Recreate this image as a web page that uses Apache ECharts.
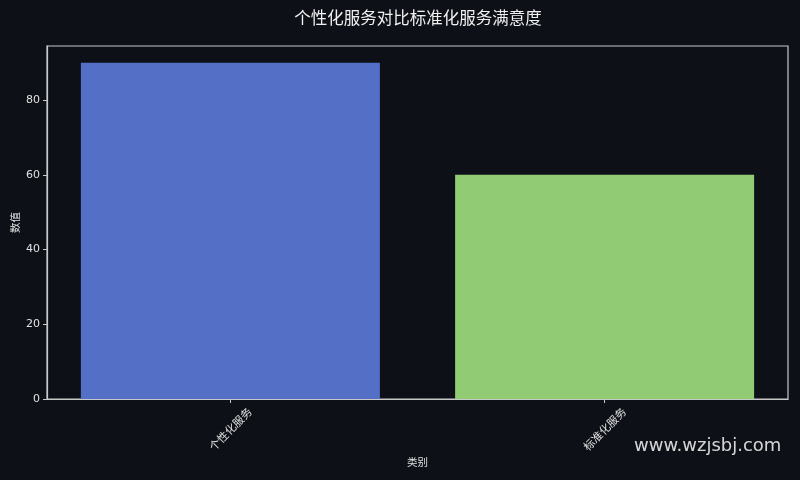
<!DOCTYPE html>
<html><head><meta charset="utf-8">
<script src="https://cdn.jsdelivr.net/npm/echarts@6/dist/echarts.min.js"></script>
<style>html,body{margin:0;padding:0;background:#0d1017;}#c{width:800px;height:480px;}</style>
</head><body><div id="c"></div>
<script>
const categories = ['个性化服务', '标准化服务'];
const values = [90, 60];
const barColors = ['#5470c6', '#91cc75'];
const yTicks = [0, 20, 40, 60, 80];
const title = '个性化服务对比标准化服务满意度';

const chart = echarts.init(document.getElementById('c'));
const font = '"Noto Sans CJK SC", "DejaVu Sans", sans-serif';
chart.setOption({
  backgroundColor: '#0d1017',
  animation: false,
  title: {
    text: title, left: 413, top: 4, textAlign: 'center',
    textStyle: {color: '#f0f0f0', fontSize: 16.5, fontWeight: 'normal', fontFamily: font}
  },
  grid: {left: 47, right: 12, top: 46, bottom: 81, outerBoundsMode: 'none', containLabel: false, show: true, borderColor: '#c8c8c8', borderWidth: 1.2, backgroundColor: 'transparent'},
  xAxis: {
    type: 'value', min: -0.49, max: 1.49,
    name: '类别', nameLocation: 'middle', nameGap: 58, nameMoveOverlap: false,
    nameTextStyle: {color: '#e0e0e0', fontSize: 10.5, fontFamily: font},
    axisLine: {show: true, onZero: false, lineStyle: {color: '#c8c8c8', width: 1.2}},
    axisTick: {show: true, length: 4, lineStyle: {color: '#c8c8c8'}, customValues: [0, 1]},
    splitLine: {show: false},
    axisLabel: {
      customValues: [0, 1], rotate: 45, align: 'center', verticalAlign: 'middle', margin: 30,
      color: '#e0e0e0', fontSize: 11, fontFamily: font,
      formatter: v => categories[Math.round(v)] || ''
    }
  },
  yAxis: {
    type: 'value', min: 0, max: 94.5,
    name: '数值', nameLocation: 'middle', nameGap: 27, nameRotate: 90, nameMoveOverlap: false,
    nameTextStyle: {color: '#e0e0e0', fontSize: 10.5, fontFamily: font},
    axisLine: {show: true, onZero: false, lineStyle: {color: '#c8c8c8', width: 1.2}},
    axisTick: {show: true, length: 4, lineStyle: {color: '#c8c8c8'}, customValues: yTicks},
    splitLine: {show: false},
    axisLabel: {customValues: yTicks, color: '#e0e0e0', fontSize: 11, margin: 7, fontFamily: '"DejaVu Sans", sans-serif'}
  },
  series: [{
    type: 'bar',
    barWidth: 299,
    data: values.map((v, i) => ({value: [i, v], itemStyle: {color: barColors[i]}}))
  }],
  graphic: [{
    type: 'text', left: 634, top: 437,
    style: {text: 'www.wzjsbj.com', fill: 'rgba(235,235,235,0.9)', fontSize: 18, fontFamily: '"DejaVu Sans", sans-serif'}
  }]
});
</script></body></html>
